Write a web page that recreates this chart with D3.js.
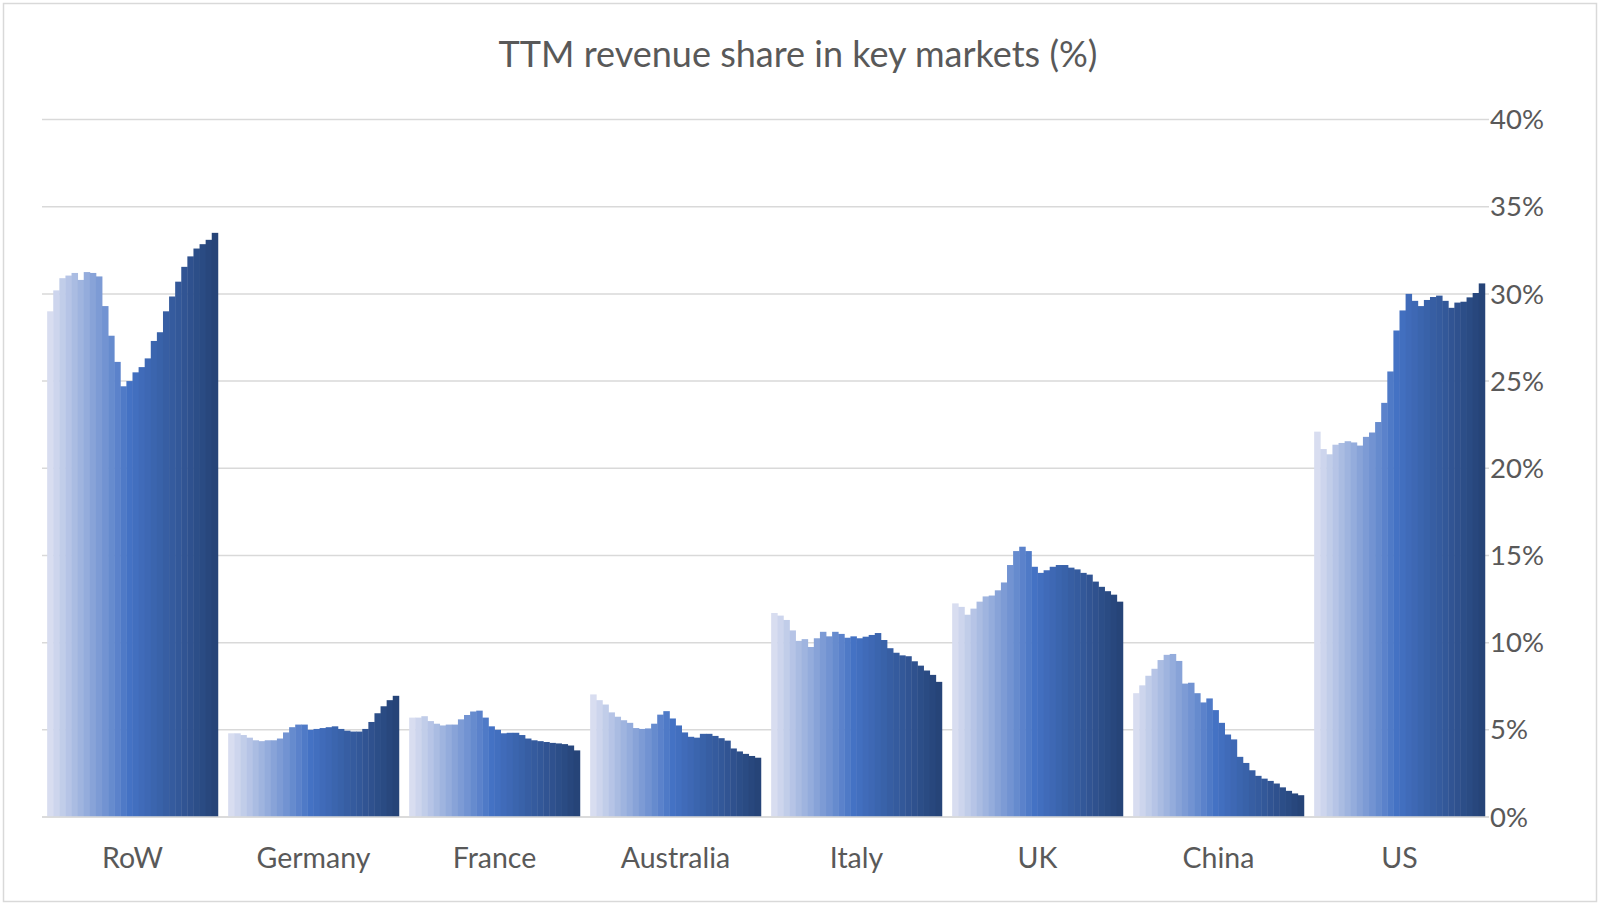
<!DOCTYPE html>
<html>
<head>
<meta charset="utf-8">
<script src="https://cdn.jsdelivr.net/npm/d3@7"></script>
<style>
  body { margin: 0; background: #fff; }
  text { font-family: Lato, "Open Sans", sans-serif; fill: #595959; }
</style>
</head>
<body>
<svg id="chart"></svg>
<script>
// TTM revenue share, 28 periods per market (oldest -> newest)
const categories = ["RoW", "Germany", "France", "Australia", "Italy", "UK", "China", "US"];

const row       = [29.0, 30.2, 30.9, 31.05, 31.2, 30.8, 31.25, 31.2, 31.0, 29.3, 27.6, 26.1, 24.7, 25.0, 25.5, 25.8, 26.3, 27.3, 27.8, 29.0, 29.85, 30.7, 31.55, 32.15, 32.6, 32.85, 33.1, 33.5];
const germany   = [4.8, 4.8, 4.7, 4.55, 4.4, 4.35, 4.4, 4.4, 4.5, 4.85, 5.15, 5.3, 5.3, 5.0, 5.05, 5.1, 5.15, 5.2, 5.05, 4.95, 4.9, 4.9, 5.05, 5.45, 5.95, 6.35, 6.7, 6.95];
const france    = [5.7, 5.7, 5.78, 5.5, 5.35, 5.25, 5.3, 5.3, 5.6, 5.85, 6.05, 6.1, 5.7, 5.2, 5.0, 4.8, 4.83, 4.83, 4.7, 4.5, 4.4, 4.35, 4.3, 4.25, 4.22, 4.18, 4.1, 3.82];
const australia = [7.03, 6.7, 6.45, 6.0, 5.75, 5.55, 5.4, 5.1, 5.05, 5.08, 5.35, 5.87, 6.07, 5.65, 5.25, 4.85, 4.6, 4.55, 4.77, 4.77, 4.65, 4.52, 4.38, 3.93, 3.76, 3.62, 3.5, 3.4];
const italy     = [11.7, 11.55, 11.3, 10.7, 10.1, 10.2, 9.75, 10.25, 10.62, 10.36, 10.62, 10.5, 10.28, 10.36, 10.25, 10.34, 10.44, 10.55, 10.15, 9.68, 9.42, 9.27, 9.22, 8.93, 8.68, 8.4, 8.15, 7.75];
const uk        = [12.25, 12.05, 11.6, 11.95, 12.35, 12.65, 12.7, 13.0, 13.45, 14.45, 15.25, 15.5, 15.25, 14.35, 14.0, 14.15, 14.35, 14.45, 14.45, 14.3, 14.2, 14.0, 13.9, 13.5, 13.2, 12.95, 12.75, 12.35];
const china     = [7.1, 7.55, 8.1, 8.5, 9.0, 9.3, 9.35, 8.95, 7.65, 7.7, 7.1, 6.57, 6.8, 6.13, 5.4, 4.73, 4.45, 3.45, 3.1, 2.68, 2.36, 2.2, 2.07, 1.92, 1.7, 1.5, 1.35, 1.25];
const us        = [22.1, 21.1, 20.8, 21.35, 21.45, 21.55, 21.48, 21.3, 21.8, 22.05, 22.65, 23.75, 25.55, 27.9, 29.05, 30.0, 29.6, 29.3, 29.65, 29.82, 29.9, 29.6, 29.2, 29.5, 29.55, 29.8, 30.05, 30.6];

const yTicks = [0, 5, 10, 15, 20, 25, 30, 35, 40];

const values = [row, germany, france, australia, italy, uk, china, us];
const nPeriods = row.length;
const periods = d3.range(nPeriods);

const width = 1600, height = 905;
const plotLeft = 42, plotRight = 1490, plotTop = 119.5, plotBottom = 817;

const svg = d3.select("#chart").attr("width", width).attr("height", height);

svg.append("rect")
  .attr("x", 3.5).attr("y", 3.5)
  .attr("width", width - 7).attr("height", height - 7)
  .attr("fill", "#fff").attr("stroke", "#d9d9d9").attr("stroke-width", 1.5);

const x0 = d3.scaleBand().domain(categories).range([plotLeft, plotRight])
  .paddingInner(0.057).paddingOuter(0.0285);
const x1 = d3.scaleBand().domain(periods).range([0, x0.bandwidth()]).padding(0);
const y = d3.scaleLinear().domain([0, 40]).range([plotBottom, plotTop]);

// colours: light tint -> Excel blue -> dark shade
const mid = 13;
const color = i => i <= mid
  ? d3.interpolateRgb("#d8ddf0", "#4472c4")(i / mid)
  : d3.interpolateRgb("#4472c4", "#264478")((i - mid) / (nPeriods - 1 - mid));

// gridlines
svg.append("g")
  .selectAll("line")
  .data(yTicks)
  .join("line")
  .attr("x1", plotLeft).attr("x2", plotRight - 1)
  .attr("y1", d => y(d)).attr("y2", d => y(d))
  .attr("stroke", "#d9d9d9").attr("stroke-width", 1.5);

// bars
const groups = svg.append("g")
  .selectAll("g")
  .data(categories)
  .join("g")
  .attr("transform", d => `translate(${x0(d)},0)`);

groups.selectAll("rect")
  .data((d, i) => values[i].map((v, j) => ({ v, j })))
  .join("rect")
  .attr("x", d => x1(d.j))
  .attr("width", x1.bandwidth() + 0.4)
  .attr("y", d => y(d.v))
  .attr("height", d => y(0) - y(d.v))
  .attr("fill", d => color(d.j));

// baseline
svg.append("line")
  .attr("x1", plotLeft).attr("x2", plotRight - 1)
  .attr("y1", y(0)).attr("y2", y(0))
  .attr("stroke", "#d9d9d9").attr("stroke-width", 1.5);

// right axis labels
svg.append("g")
  .selectAll("text")
  .data(yTicks)
  .join("text")
  .attr("x", 1490)
  .attr("y", d => y(d))
  .attr("dy", "0.35em")
  .attr("font-size", 27.5)
  .text(d => d + "%");

// category labels
svg.append("g")
  .selectAll("text")
  .data(categories)
  .join("text")
  .attr("x", d => x0(d) + x0.bandwidth() / 2)
  .attr("y", 858)
  .attr("dy", "0.35em")
  .attr("text-anchor", "middle")
  .attr("font-size", 28.5)
  .text(d => d);

// title
svg.append("text")
  .attr("x", 798).attr("y", 54)
  .attr("dy", "0.35em")
  .attr("text-anchor", "middle")
  .attr("font-size", 36)
  .text("TTM revenue share in key markets (%)");
</script>
</body>
</html>
